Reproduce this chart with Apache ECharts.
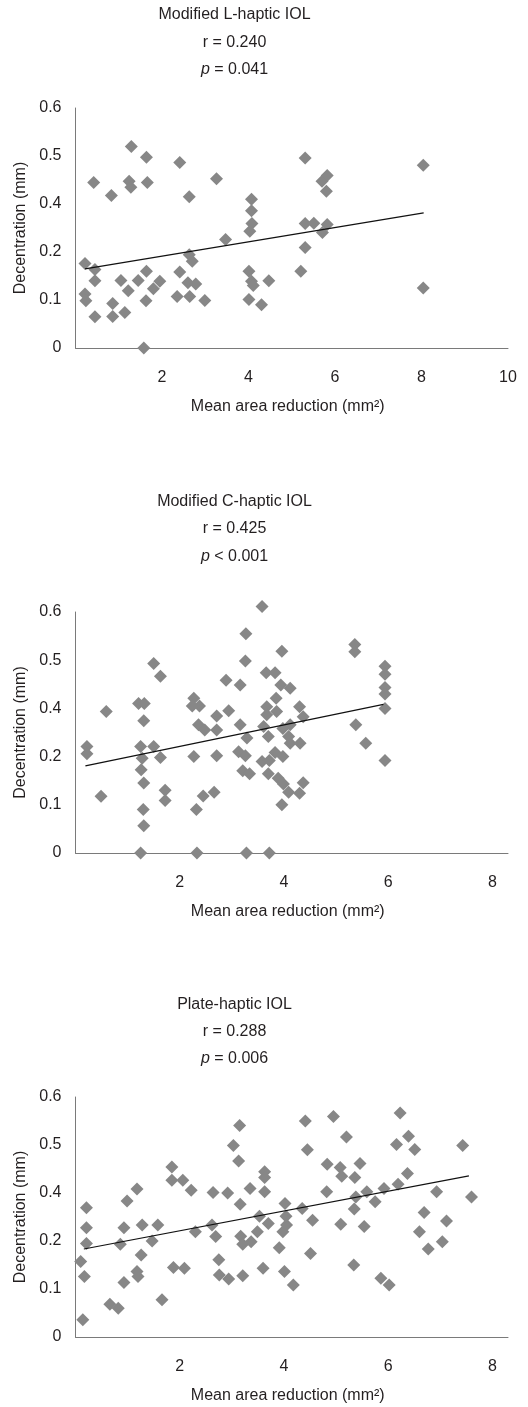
<!DOCTYPE html>
<html>
<head>
<meta charset="utf-8">
<script src="https://cdn.jsdelivr.net/npm/echarts@6/dist/echarts.min.js"></script>
<style>
html,body{margin:0;padding:0;background:#fff;}
#chart{width:528px;height:1407px;}
</style>
</head>
<body>
<div id="chart"></div>
<script>
// ---- Titles ----
const panelNames = ['Modified L-haptic IOL', 'Modified C-haptic IOL', 'Plate-haptic IOL'];
const rTexts = ['r = 0.240', 'r = 0.425', 'r = 0.288'];
const pTexts = [' = 0.041', ' < 0.001', ' = 0.006'];
const xAxisTitle = 'Mean area reduction (mm\u00B2)';
const yAxisTitle = 'Decentration (mm)';
// y tick labels as printed on the original figure (6 evenly spaced ticks)
const yTickLabels = ['0', '0.1', '0.2', '0.4', '0.5', '0.6'];
const xMaxes = [10, 8.3, 8.3];

// ---- Data: [mean area reduction, decentration] ----
const lHaptic = [
[1.29,0.504],[1.64,0.477],[2.41,0.464],[0.42,0.414],[0.83,0.381],[1.24,0.417],[1.28,0.402],[1.66,0.414],
[3.26,0.423],[2.63,0.378],[5.31,0.475],[8.04,0.457],[5.70,0.417],[5.82,0.431],[5.80,0.392],[4.07,0.372],
[4.07,0.343],[4.08,0.311],[4.03,0.292],[5.31,0.311],[5.51,0.312],[5.82,0.309],[5.71,0.289],[3.47,0.271],
[5.31,0.251],[5.21,0.192],[8.04,0.150],[0.22,0.211],[0.45,0.196],[0.45,0.168],[0.22,0.135],[0.24,0.118],
[0.45,0.078],[0.86,0.111],[0.86,0.079],[1.14,0.089],[1.05,0.169],[1.22,0.143],[1.45,0.169],[1.64,0.192],
[1.80,0.148],[1.95,0.167],[1.63,0.118],[1.58,0.0],[2.41,0.190],[2.63,0.233],[2.70,0.217],[2.60,0.163],
[2.78,0.160],[2.35,0.129],[2.64,0.129],[2.99,0.119],[4.01,0.192],[4.07,0.167],[4.11,0.156],[4.47,0.168],
[4.01,0.121],[4.30,0.108]
];
const lTrend = [[0.22,0.198],[8.05,0.338]];

const cHaptic = [
[3.58,0.614],[3.27,0.546],[3.26,0.478],[3.96,0.502],[5.36,0.519],[5.36,0.501],[5.94,0.465],[5.94,0.445],
[5.94,0.412],[5.94,0.396],[5.94,0.360],[5.94,0.230],[5.38,0.319],[5.57,0.273],[1.50,0.472],[1.63,0.440],
[0.59,0.352],[1.21,0.372],[1.32,0.372],[1.31,0.329],[0.22,0.265],[0.22,0.247],[0.49,0.141],[1.25,0.265],
[1.50,0.265],[1.28,0.236],[1.63,0.238],[1.26,0.207],[1.31,0.174],[1.30,0.108],[1.31,0.068],[1.25,0.0],
[1.72,0.156],[1.72,0.131],[2.27,0.385],[2.24,0.366],[2.38,0.366],[2.36,0.319],[2.48,0.306],[2.27,0.240],
[2.45,0.142],[2.32,0.108],[2.33,0.0],[2.71,0.341],[2.71,0.306],[2.71,0.242],[2.66,0.151],[2.89,0.430],
[2.94,0.354],[3.16,0.418],[3.16,0.319],[3.13,0.252],[3.26,0.242],[3.29,0.286],[3.21,0.205],[3.34,0.197],
[3.28,0.0],[3.66,0.449],[3.83,0.449],[3.94,0.418],[4.12,0.410],[3.85,0.385],[3.67,0.364],[3.67,0.344],
[3.86,0.352],[3.61,0.315],[3.70,0.290],[3.98,0.310],[4.12,0.319],[4.30,0.364],[4.37,0.339],[4.09,0.290],
[4.12,0.273],[4.31,0.273],[3.58,0.228],[3.72,0.230],[3.83,0.250],[3.98,0.240],[3.70,0.197],[3.89,0.186],
[3.99,0.172],[4.09,0.151],[4.30,0.149],[4.37,0.175],[3.96,0.120],[3.72,0.0]
];
const cTrend = [[0.19,0.217],[5.91,0.370]];

const plateHaptic = [
[6.23,0.560],[4.95,0.551],[4.41,0.540],[3.15,0.529],[3.03,0.479],[3.13,0.440],[5.20,0.500],[4.45,0.468],
[6.16,0.481],[6.39,0.502],[6.51,0.469],[7.43,0.479],[1.85,0.425],[1.85,0.392],[2.06,0.392],[2.22,0.367],
[1.18,0.370],[0.99,0.340],[0.21,0.323],[0.21,0.273],[0.21,0.234],[0.10,0.189],[0.17,0.151],[0.14,0.043],
[0.66,0.082],[0.82,0.072],[1.66,0.093],[0.93,0.136],[1.18,0.164],[1.20,0.151],[1.26,0.205],[0.93,0.273],
[0.86,0.232],[1.28,0.280],[1.58,0.280],[1.47,0.240],[1.88,0.174],[2.09,0.172],[2.30,0.263],[2.64,0.361],
[2.92,0.360],[3.35,0.371],[3.63,0.413],[3.63,0.399],[3.63,0.363],[3.16,0.332],[2.62,0.280],[2.69,0.251],
[2.75,0.193],[2.76,0.155],[2.94,0.145],[3.21,0.153],[3.17,0.252],[3.21,0.232],[3.37,0.238],[3.49,0.263],
[3.53,0.302],[3.70,0.284],[3.60,0.172],[3.91,0.223],[3.98,0.263],[4.05,0.280],[4.04,0.302],[4.02,0.334],
[4.01,0.164],[4.18,0.130],[4.35,0.321],[4.55,0.292],[4.51,0.209],[4.82,0.363],[4.83,0.432],[5.08,0.424],
[5.11,0.402],[5.09,0.282],[5.36,0.399],[5.38,0.350],[5.35,0.320],[5.46,0.434],[5.54,0.276],[5.59,0.363],
[5.75,0.338],[5.34,0.180],[5.92,0.371],[6.19,0.382],[6.37,0.409],[5.86,0.147],[6.02,0.130],[6.93,0.363],
[7.60,0.350],[6.69,0.311],[6.60,0.263],[7.12,0.290],[6.77,0.220],[7.04,0.238]
];
const plateTrend = [[0.16,0.220],[7.55,0.403]];

const datasets = [lHaptic, cHaptic, plateHaptic];
const trends = [lTrend, cTrend, plateTrend];

// ---- Layout ----
const FONT = "'Liberation Sans', Arial, sans-serif";
const TXT = '#231f20';
const gridTops = [108, 612, 1097];
const gridH = [240, 241, 240];
const titleYs = [[15, 43, 70], [502, 529, 557], [1005, 1032, 1059]];
const titleX = 234.5;

const grids = [], xAxes = [], yAxes = [], series = [], graphics = [];
for (let i = 0; i < 3; i++) {
  grids.push({left: 75.5, top: gridTops[i], width: 432.5, height: gridH[i], containLabel: false});
  xAxes.push({
    type: 'value', gridIndex: i, min: 0, max: xMaxes[i], interval: 2,
    axisLine: {show: true, onZero: false, lineStyle: {color: '#7a7a7a', width: 1}},
    axisTick: {show: false}, splitLine: {show: false},
    axisLabel: {showMinLabel: false, showMaxLabel: xMaxes[i] % 2 === 0, margin: 22,
      color: TXT, fontSize: 16, fontFamily: FONT},
    name: xAxisTitle, nameLocation: 'middle', nameGap: 51,
    nameTextStyle: {color: TXT, fontSize: 16, fontFamily: FONT, padding: [0, 8, 0, 0]}
  });
  yAxes.push({
    type: 'value', gridIndex: i, min: 0, max: 0.6, interval: 0.12,
    axisLine: {show: true, onZero: false, lineStyle: {color: '#7a7a7a', width: 1}},
    axisTick: {show: false}, splitLine: {show: false},
    axisLabel: {margin: 14, color: TXT, fontSize: 16, fontFamily: FONT,
      formatter: v => yTickLabels[Math.round(v / 0.12)]},
    name: yAxisTitle, nameLocation: 'middle', nameGap: 38,
    nameTextStyle: {color: TXT, fontSize: 16, fontFamily: FONT}
  });
  series.push({
    type: 'scatter', xAxisIndex: i, yAxisIndex: i, data: datasets[i],
    symbol: 'diamond', symbolSize: 13, clip: false,
    itemStyle: {color: '#878787', opacity: 1}, z: 2, silent: true
  });
  series.push({
    type: 'line', xAxisIndex: i, yAxisIndex: i, data: trends[i],
    symbol: 'none', lineStyle: {color: '#111', width: 1.2}, z: 3, silent: true
  });
  const lines = [
    {text: panelNames[i]},
    {text: rTexts[i]},
    {text: '{i|p}' + pTexts[i]}
  ];
  lines.forEach((ln, k) => {
    graphics.push({
      type: 'text', x: titleX, y: titleYs[i][k],
      style: {text: ln.text, align: 'center', verticalAlign: 'middle',
        fontSize: 16, fontFamily: FONT, fill: TXT,
        rich: {i: {fontStyle: 'italic', fontSize: 16, fontFamily: FONT, fill: TXT}}}
    });
  });
}

const chart = echarts.init(document.getElementById('chart'), null, {renderer: 'canvas'});
chart.setOption({
  animation: false,
  backgroundColor: '#ffffff',
  grid: grids, xAxis: xAxes, yAxis: yAxes, series: series, graphic: graphics
});
</script>
</body>
</html>
